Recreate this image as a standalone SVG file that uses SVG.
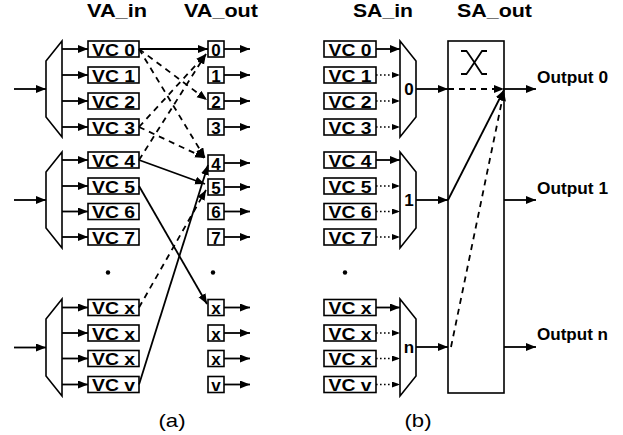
<svg xmlns="http://www.w3.org/2000/svg" width="623" height="435" viewBox="0 0 623 435">
<style>
.bg{fill:#fff}
.box{fill:#fff;stroke:#000;stroke-width:1.6}
.mux{fill:#fff;stroke:#000;stroke-width:1.6}
.ln{fill:none;stroke:#000;stroke-width:1.8}
.ds{fill:none;stroke:#000;stroke-width:1.8;stroke-dasharray:6,5}
.dt{fill:none;stroke:#000;stroke-width:1.6;stroke-dasharray:1.6,2.4}
.t{font-family:"Liberation Sans",Arial,sans-serif;font-weight:bold;font-size:17px;fill:#000}
.ti{font-family:"Liberation Sans",Arial,sans-serif;font-weight:bold;font-size:19px;fill:#000}
.cap{font-family:"Liberation Sans",Arial,sans-serif;font-size:19px;fill:#000}
.m{text-anchor:middle}
</style>
<defs>
<marker id="ah" markerUnits="userSpaceOnUse" markerWidth="12" markerHeight="10" refX="10" refY="4" orient="auto"><path d="M0,0 L10,4 L0,8 Z" fill="#000"/></marker>
<marker id="ahs" markerUnits="userSpaceOnUse" markerWidth="10" markerHeight="8" refX="8" refY="3" orient="auto"><path d="M0,0 L8,3 L0,6 Z" fill="#000"/></marker>
</defs>
<rect class="bg" x="0" y="0" width="623" height="435"/>

<g id="titles">
<text class="ti" x="87" y="17" textLength="60" lengthAdjust="spacingAndGlyphs">VA_in</text>
<text class="ti" x="184" y="17" textLength="74" lengthAdjust="spacingAndGlyphs">VA_out</text>
<text class="ti" x="353" y="17" textLength="60" lengthAdjust="spacingAndGlyphs">SA_in</text>
<text class="ti" x="457" y="17" textLength="75" lengthAdjust="spacingAndGlyphs">SA_out</text>
</g>

<!-- Part (a) -->
<g id="a-mux0"><path class="mux" d="M62,41 L46,61 L46,117 L62,137 Z"/></g>
<g id="a-mux1"><path class="mux" d="M62,152 L46,172 L46,228 L62,248 Z"/></g>
<g id="a-mux2"><path class="mux" d="M62,299 L46,319 L46,376 L62,396 Z"/></g>

<g id="a-vc0"><rect class="box" x="88" y="41" width="51" height="16"/><text class="t m" x="113.5" y="55.5" textLength="43" lengthAdjust="spacingAndGlyphs">VC 0</text></g>
<g id="a-vc1"><rect class="box" x="88" y="67" width="51" height="16"/><text class="t m" x="113.5" y="81.5" textLength="43" lengthAdjust="spacingAndGlyphs">VC 1</text></g>
<g id="a-vc2"><rect class="box" x="88" y="93" width="51" height="16"/><text class="t m" x="113.5" y="107.5" textLength="43" lengthAdjust="spacingAndGlyphs">VC 2</text></g>
<g id="a-vc3"><rect class="box" x="88" y="119" width="51" height="16"/><text class="t m" x="113.5" y="133.5" textLength="43" lengthAdjust="spacingAndGlyphs">VC 3</text></g>
<g id="a-vc4"><rect class="box" x="88" y="152" width="51" height="16"/><text class="t m" x="113.5" y="166.5" textLength="43" lengthAdjust="spacingAndGlyphs">VC 4</text></g>
<g id="a-vc5"><rect class="box" x="88" y="178" width="51" height="16"/><text class="t m" x="113.5" y="192.5" textLength="43" lengthAdjust="spacingAndGlyphs">VC 5</text></g>
<g id="a-vc6"><rect class="box" x="88" y="203.5" width="51" height="16"/><text class="t m" x="113.5" y="218" textLength="43" lengthAdjust="spacingAndGlyphs">VC 6</text></g>
<g id="a-vc7"><rect class="box" x="88" y="229" width="51" height="16"/><text class="t m" x="113.5" y="243.5" textLength="43" lengthAdjust="spacingAndGlyphs">VC 7</text></g>
<g id="a-vcx1"><rect class="box" x="88" y="299.5" width="51" height="16"/><text class="t m" x="113.5" y="314" textLength="43" lengthAdjust="spacingAndGlyphs">VC x</text></g>
<g id="a-vcx2"><rect class="box" x="88" y="325" width="51" height="16"/><text class="t m" x="113.5" y="339.5" textLength="43" lengthAdjust="spacingAndGlyphs">VC x</text></g>
<g id="a-vcx3"><rect class="box" x="88" y="350.5" width="51" height="16"/><text class="t m" x="113.5" y="365" textLength="43" lengthAdjust="spacingAndGlyphs">VC x</text></g>
<g id="a-vcv"><rect class="box" x="88" y="376.5" width="51" height="16"/><text class="t m" x="113.5" y="391" textLength="43" lengthAdjust="spacingAndGlyphs">VC v</text></g>

<g id="a-o0"><rect class="box" x="208" y="41" width="16" height="16"/><text class="t m" x="216" y="55.5">0</text></g>
<g id="a-o1"><rect class="box" x="208" y="67" width="16" height="16"/><text class="t m" x="216" y="81.5">1</text></g>
<g id="a-o2"><rect class="box" x="208" y="93" width="16" height="16"/><text class="t m" x="216" y="107.5">2</text></g>
<g id="a-o3"><rect class="box" x="208" y="119" width="16" height="16"/><text class="t m" x="216" y="133.5">3</text></g>
<g id="a-o4"><rect class="box" x="208" y="155" width="16" height="16"/><text class="t m" x="216" y="169.5">4</text></g>
<g id="a-o5"><rect class="box" x="208" y="179" width="16" height="16"/><text class="t m" x="216" y="193.5">5</text></g>
<g id="a-o6"><rect class="box" x="208" y="203.5" width="16" height="16"/><text class="t m" x="216" y="218">6</text></g>
<g id="a-o7"><rect class="box" x="208" y="229" width="16" height="16"/><text class="t m" x="216" y="243.5">7</text></g>
<g id="a-ox1"><rect class="box" x="208" y="299.5" width="16" height="16"/><text class="t m" x="216" y="314">x</text></g>
<g id="a-ox2"><rect class="box" x="208" y="325" width="16" height="16"/><text class="t m" x="216" y="339.5">x</text></g>
<g id="a-ox3"><rect class="box" x="208" y="350.5" width="16" height="16"/><text class="t m" x="216" y="365">x</text></g>
<g id="a-ov"><rect class="box" x="208" y="376.5" width="16" height="16"/><text class="t m" x="216" y="391">v</text></g>

<g id="a-dots">
<circle cx="108" cy="272.5" r="2.2" fill="#000"/>
<circle cx="213" cy="272.5" r="2.2" fill="#000"/>
</g>

<!-- Part (b) -->
<g id="b-vc0"><rect class="box" x="324" y="41" width="52" height="16"/><text class="t m" x="350" y="55.5" textLength="43" lengthAdjust="spacingAndGlyphs">VC 0</text></g>
<g id="b-vc1"><rect class="box" x="324" y="67" width="52" height="16"/><text class="t m" x="350" y="81.5" textLength="43" lengthAdjust="spacingAndGlyphs">VC 1</text></g>
<g id="b-vc2"><rect class="box" x="324" y="93" width="52" height="16"/><text class="t m" x="350" y="107.5" textLength="43" lengthAdjust="spacingAndGlyphs">VC 2</text></g>
<g id="b-vc3"><rect class="box" x="324" y="119" width="52" height="16"/><text class="t m" x="350" y="133.5" textLength="43" lengthAdjust="spacingAndGlyphs">VC 3</text></g>
<g id="b-vc4"><rect class="box" x="324" y="152" width="52" height="16"/><text class="t m" x="350" y="166.5" textLength="43" lengthAdjust="spacingAndGlyphs">VC 4</text></g>
<g id="b-vc5"><rect class="box" x="324" y="178" width="52" height="16"/><text class="t m" x="350" y="192.5" textLength="43" lengthAdjust="spacingAndGlyphs">VC 5</text></g>
<g id="b-vc6"><rect class="box" x="324" y="203.5" width="52" height="16"/><text class="t m" x="350" y="218" textLength="43" lengthAdjust="spacingAndGlyphs">VC 6</text></g>
<g id="b-vc7"><rect class="box" x="324" y="229" width="52" height="16"/><text class="t m" x="350" y="243.5" textLength="43" lengthAdjust="spacingAndGlyphs">VC 7</text></g>
<g id="b-vcx1"><rect class="box" x="324" y="299.5" width="52" height="16"/><text class="t m" x="350" y="314" textLength="43" lengthAdjust="spacingAndGlyphs">VC x</text></g>
<g id="b-vcx2"><rect class="box" x="324" y="325" width="52" height="16"/><text class="t m" x="350" y="339.5" textLength="43" lengthAdjust="spacingAndGlyphs">VC x</text></g>
<g id="b-vcx3"><rect class="box" x="324" y="350.5" width="52" height="16"/><text class="t m" x="350" y="365" textLength="43" lengthAdjust="spacingAndGlyphs">VC x</text></g>
<g id="b-vcv"><rect class="box" x="324" y="376.5" width="52" height="16"/><text class="t m" x="350" y="391" textLength="43" lengthAdjust="spacingAndGlyphs">VC v</text></g>

<g id="b-mux0"><path class="mux" d="M400,41 L416,61 L416,117 L400,137 Z"/><text class="t m" x="409" y="95">0</text></g>
<g id="b-mux1"><path class="mux" d="M400,152 L416,172 L416,228 L400,248 Z"/><text class="t m" x="409" y="206">1</text></g>
<g id="b-mux2"><path class="mux" d="M400,299 L416,319 L416,376 L400,396 Z"/><text class="t m" x="409" y="353">n</text></g>

<g id="b-xbar">
<rect class="box" x="448" y="41" width="56" height="352"/>
<path class="ln" stroke-width="1.3" d="M461,51 H466.5 C471,57 478,68 482,74 H487 M461,74 H466.5 C471,68 478,57 482,51 H487"/>
</g>

<g id="b-dot"><circle cx="345" cy="272.5" r="2.2" fill="#000"/></g>

<g id="b-labels">
<text class="t" x="537" y="83" textLength="71" lengthAdjust="spacingAndGlyphs">Output 0</text>
<text class="t" x="537" y="194" textLength="71" lengthAdjust="spacingAndGlyphs">Output 1</text>
<text class="t" x="537" y="340" textLength="71" lengthAdjust="spacingAndGlyphs">Output n</text>
</g>

<g id="connectors">
<line class="ln" x1="14" y1="89" x2="46" y2="89" marker-end="url(#ah)"/>
<line class="ln" x1="14" y1="200" x2="46" y2="200" marker-end="url(#ah)"/>
<line class="ln" x1="14" y1="347.5" x2="46" y2="347.5" marker-end="url(#ah)"/>
<line class="ln" x1="62" y1="49" x2="88" y2="49" marker-end="url(#ah)"/>
<line class="ln" x1="62" y1="75" x2="88" y2="75" marker-end="url(#ah)"/>
<line class="ln" x1="62" y1="101" x2="88" y2="101" marker-end="url(#ah)"/>
<line class="ln" x1="62" y1="127" x2="88" y2="127" marker-end="url(#ah)"/>
<line class="ln" x1="62" y1="160" x2="88" y2="160" marker-end="url(#ah)"/>
<line class="ln" x1="62" y1="186" x2="88" y2="186" marker-end="url(#ah)"/>
<line class="ln" x1="62" y1="211.5" x2="88" y2="211.5" marker-end="url(#ah)"/>
<line class="ln" x1="62" y1="237" x2="88" y2="237" marker-end="url(#ah)"/>
<line class="ln" x1="62" y1="307.5" x2="88" y2="307.5" marker-end="url(#ah)"/>
<line class="ln" x1="62" y1="333" x2="88" y2="333" marker-end="url(#ah)"/>
<line class="ln" x1="62" y1="358.5" x2="88" y2="358.5" marker-end="url(#ah)"/>
<line class="ln" x1="62" y1="384.5" x2="88" y2="384.5" marker-end="url(#ah)"/>
<line class="ln" x1="139" y1="49" x2="208" y2="49" marker-end="url(#ah)"/>
<line class="ds" x1="139" y1="49" x2="207" y2="100" marker-end="url(#ah)"/>
<line class="ds" x1="139" y1="49" x2="205" y2="158" marker-end="url(#ah)"/>
<line class="ds" x1="139" y1="127" x2="205" y2="158" marker-end="url(#ah)"/>
<line class="ds" x1="139" y1="127" x2="206" y2="54" marker-end="url(#ah)"/>
<line class="ds" x1="139" y1="160" x2="206" y2="54" marker-end="url(#ah)"/>
<line class="ln" x1="139" y1="160" x2="205" y2="184" marker-end="url(#ah)"/>
<line class="ln" x1="139" y1="186" x2="207" y2="304" marker-end="url(#ah)"/>
<line class="ds" x1="139" y1="307.5" x2="206" y2="190" marker-end="url(#ah)"/>
<line class="ln" x1="139" y1="384.5" x2="208" y2="165" marker-end="url(#ah)"/>
<line class="ln" x1="224" y1="49" x2="250" y2="49" marker-end="url(#ah)"/>
<line class="ln" x1="224" y1="75" x2="250" y2="75" marker-end="url(#ah)"/>
<line class="ln" x1="224" y1="101" x2="250" y2="101" marker-end="url(#ah)"/>
<line class="ln" x1="224" y1="127" x2="250" y2="127" marker-end="url(#ah)"/>
<line class="ln" x1="224" y1="163" x2="250" y2="163" marker-end="url(#ah)"/>
<line class="ln" x1="224" y1="187" x2="250" y2="187" marker-end="url(#ah)"/>
<line class="ln" x1="224" y1="211.5" x2="250" y2="211.5" marker-end="url(#ah)"/>
<line class="ln" x1="224" y1="237" x2="250" y2="237" marker-end="url(#ah)"/>
<line class="ln" x1="224" y1="307.5" x2="250" y2="307.5" marker-end="url(#ah)"/>
<line class="ln" x1="224" y1="333" x2="250" y2="333" marker-end="url(#ah)"/>
<line class="ln" x1="224" y1="358.5" x2="250" y2="358.5" marker-end="url(#ah)"/>
<line class="ln" x1="224" y1="384.5" x2="250" y2="384.5" marker-end="url(#ah)"/>
<line class="ln" x1="376" y1="49" x2="400" y2="49" marker-end="url(#ah)"/>
<line class="dt" x1="376" y1="75" x2="400" y2="75" marker-end="url(#ahs)"/>
<line class="dt" x1="376" y1="101" x2="400" y2="101" marker-end="url(#ahs)"/>
<line class="dt" x1="376" y1="127" x2="400" y2="127" marker-end="url(#ahs)"/>
<line class="ln" x1="376" y1="160" x2="400" y2="160" marker-end="url(#ah)"/>
<line class="dt" x1="376" y1="186" x2="400" y2="186" marker-end="url(#ahs)"/>
<line class="dt" x1="376" y1="211.5" x2="400" y2="211.5" marker-end="url(#ahs)"/>
<line class="dt" x1="376" y1="237" x2="400" y2="237" marker-end="url(#ahs)"/>
<line class="ln" x1="376" y1="307.5" x2="400" y2="307.5" marker-end="url(#ah)"/>
<line class="dt" x1="376" y1="333" x2="400" y2="333" marker-end="url(#ahs)"/>
<line class="dt" x1="376" y1="358.5" x2="400" y2="358.5" marker-end="url(#ahs)"/>
<line class="dt" x1="376" y1="384.5" x2="400" y2="384.5" marker-end="url(#ahs)"/>
<line class="ln" x1="416" y1="89" x2="448" y2="89" marker-end="url(#ah)"/>
<line class="ln" x1="416" y1="200" x2="448" y2="200" marker-end="url(#ah)"/>
<line class="ln" x1="416" y1="347" x2="448" y2="347" marker-end="url(#ah)"/>
<line class="ds" x1="448" y1="89" x2="504" y2="89" marker-end="url(#ah)"/>
<line class="ln" x1="448" y1="200" x2="504" y2="90" marker-end="url(#ah)"/>
<line class="ds" x1="451" y1="347" x2="504" y2="91" marker-end="url(#ah)"/>
<line class="ln" x1="504" y1="89" x2="536" y2="89" marker-end="url(#ah)"/>
<line class="ln" x1="504" y1="200" x2="536" y2="200" marker-end="url(#ah)"/>
<line class="ln" x1="504" y1="347" x2="536" y2="347" marker-end="url(#ah)"/>
</g>

<g id="captions">
<text class="cap m" x="172" y="427" textLength="27" lengthAdjust="spacingAndGlyphs">(a)</text>
<text class="cap m" x="418" y="427" textLength="27" lengthAdjust="spacingAndGlyphs">(b)</text>
</g>
</svg>
